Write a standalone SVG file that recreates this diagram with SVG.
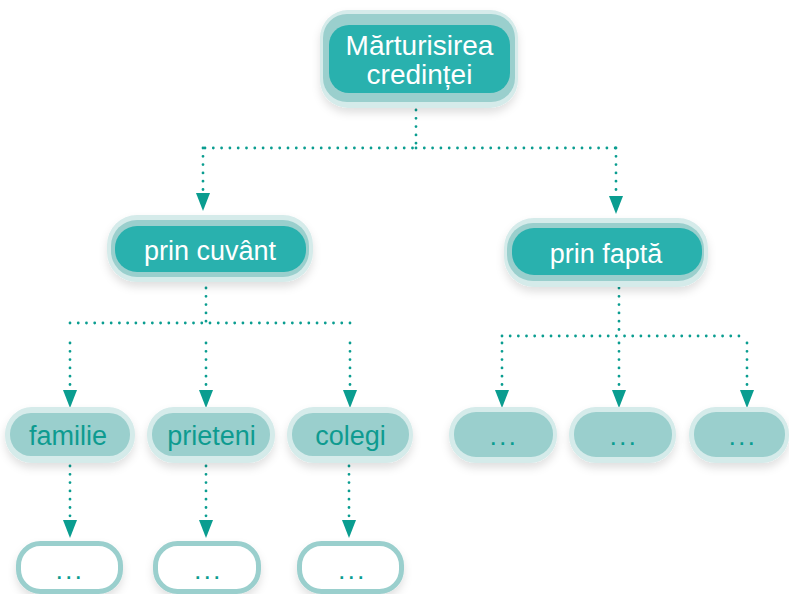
<svg xmlns="http://www.w3.org/2000/svg" width="789" height="594" viewBox="0 0 789 594">
<defs>
<filter id="sh" x="-20%" y="-30%" width="140%" height="170%">
<feDropShadow dx="0" dy="5" stdDeviation="4" flood-color="#000" flood-opacity="0.12"/>
</filter>
<marker id="ah" viewBox="0 -7 18 14" markerWidth="18" markerHeight="14" refX="0" refY="0" orient="auto" markerUnits="userSpaceOnUse">
<path d="M0,-7 L18,0 L0,7 z" fill="#0a9d90"/>
</marker>
</defs>
<style>
.halo{fill:#d5ebea;filter:url(#sh)}
.ring{fill:#9acfcd}
.core{fill:#29b1ae}
.lt{fill:#9acfcd}
.wb{fill:#ffffff;stroke:#9acfcd;stroke-width:5}
.tw{font-family:"Liberation Sans",Arial,sans-serif;font-size:27px;fill:#ffffff;text-anchor:middle}
.tt{font-family:"Liberation Sans",Arial,sans-serif;font-size:27px;fill:#0e9b90;text-anchor:middle}
.dots{font-family:"Liberation Sans",Arial,sans-serif;font-size:18px;font-weight:bold;fill:#0a9d90;text-anchor:middle;letter-spacing:4.5px}
.c{fill:none;stroke:#0a9d90;stroke-width:2.8;stroke-linecap:round;stroke-dasharray:0 8.3}
.a{marker-end:url(#ah)}
</style>
<g id="connectors">
<path class="c" d="M416,110 V148 H203"/>
<path class="c a" d="M203,148 V193"/>
<path class="c" d="M416,148 H616"/>
<path class="c a" d="M616,148 V196"/>
<path class="c" d="M206,288 V323"/>
<path class="c" d="M70,323 H350" style="stroke-dasharray:0 8.235"/>
<path class="c a" d="M70,343 V390"/>
<path class="c a" d="M206,343 V390"/>
<path class="c a" d="M350,343 V390"/>
<path class="c" d="M619,288 V336"/>
<path class="c" d="M502,336 H747" style="stroke-dasharray:0 8.17"/>
<path class="c a" d="M502,343 V390"/>
<path class="c a" d="M619,343 V390"/>
<path class="c a" d="M747,343 V390"/>
<path class="c a" d="M70,466 V520"/>
<path class="c a" d="M206,466 V520"/>
<path class="c a" d="M349,466 V520"/>
</g>
<g id="n-root">
<rect class="halo" x="320" y="10" width="198" height="98" rx="28"/>
<rect class="ring" x="323" y="14" width="192" height="88" rx="24"/>
<rect class="core" x="329" y="25" width="181" height="68" rx="20"/>
<text class="tw" x="419.5" y="55" style="font-size:28px">Mărturisirea</text>
<text class="tw" x="419.5" y="84" style="font-size:28px">credinței</text>
</g>
<g id="n-cuvant">
<rect class="halo" x="107" y="215" width="206" height="67" rx="30"/>
<rect class="ring" x="111" y="220" width="198" height="57" rx="26"/>
<rect class="core" x="115" y="226" width="191" height="46" rx="22"/>
<text class="tw" x="210" y="260">prin cuvânt</text>
</g>
<g id="n-fapta">
<rect class="halo" x="504" y="218" width="204" height="69" rx="30"/>
<rect class="ring" x="507" y="223" width="197" height="58" rx="26"/>
<rect class="core" x="512" y="228" width="190" height="47" rx="22"/>
<text class="tw" x="606" y="263">prin faptă</text>
</g>
<g id="n-familie">
<rect class="halo" x="5" y="407" width="130" height="56" rx="27"/>
<rect class="lt" x="10" y="413" width="120" height="43" rx="21"/>
<text class="tt" x="68" y="445">familie</text>
</g>
<g id="n-prieteni">
<rect class="halo" x="147" y="407" width="128" height="56" rx="27"/>
<rect class="lt" x="152" y="413" width="118" height="43" rx="21"/>
<text class="tt" x="211.5" y="445">prieteni</text>
</g>
<g id="n-colegi">
<rect class="halo" x="287" y="407" width="126" height="56" rx="27"/>
<rect class="lt" x="292" y="413" width="117" height="43" rx="21"/>
<text class="tt" x="350.5" y="445">colegi</text>
</g>
<g id="n-f1">
<rect class="halo" x="449" y="407" width="108" height="56" rx="27"/>
<rect class="lt" x="454" y="412" width="99" height="45" rx="22"/>
<text class="dots" x="505" y="445">...</text>
</g>
<g id="n-f2">
<rect class="halo" x="569" y="407" width="107" height="56" rx="27"/>
<rect class="lt" x="574" y="412" width="98" height="45" rx="22"/>
<text class="dots" x="625" y="445">...</text>
</g>
<g id="n-f3">
<rect class="halo" x="689" y="407" width="100" height="56" rx="27"/>
<rect class="lt" x="694" y="412" width="91" height="45" rx="22"/>
<text class="dots" x="744" y="445">...</text>
</g>
<g id="n-b1">
<rect class="wb" x="18.5" y="543.5" width="102" height="48" rx="22" style="filter:url(#sh)"/>
<text class="dots" x="71" y="579">...</text>
</g>
<g id="n-b2">
<rect class="wb" x="155.5" y="543.5" width="103" height="48" rx="22" style="filter:url(#sh)"/>
<text class="dots" x="209.5" y="579">...</text>
</g>
<g id="n-b3">
<rect class="wb" x="299.5" y="543.5" width="102" height="48" rx="22" style="filter:url(#sh)"/>
<text class="dots" x="353.5" y="579">...</text>
</g>
</svg>
